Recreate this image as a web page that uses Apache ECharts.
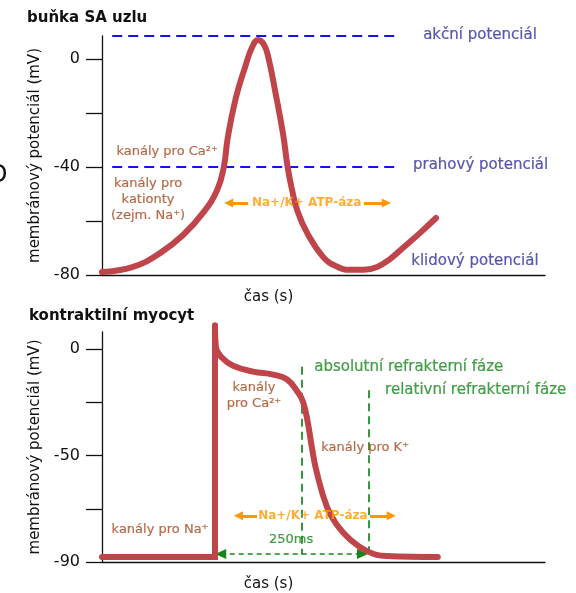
<!DOCTYPE html>
<html>
<head>
<meta charset="utf-8">
<script src="https://cdn.jsdelivr.net/npm/echarts@6/dist/echarts.min.js"></script>
<style>html,body{margin:0;padding:0;background:#fff}#c{width:576px;height:593px}</style>
</head>
<body>
<div id="c"></div>
<script>
// ---- data: SA node cell (top) ----
const topTime = [0, 7.0, 13.1, 18.3, 22.8, 26.0, 27.5, 28.4, 30.2, 32.3, 33.9, 35.2, 36.6, 37.6, 39.1, 40.9, 41.9, 42.9, 44.2, 46.3, 49.9, 52.8, 56.0, 59.1, 62.1, 65.0, 67.9, 71.8, 75.4];
const topMv   = [-78.9, -77.0, -71.9, -65.2, -57.0, -48.5, -40, -29, -14.5, -3.0, 4.4, 7.0, 5.2, 0.2, -12.0, -28.1, -40, -48.5, -56.7, -64.4, -73.3, -76.7, -78.1, -78.1, -77.0, -74.1, -70.0, -64.4, -58.9];
const topTickValues = [-80, -60, -40, -20, 0];
const topLabelValues = [-80, -40, 0];
const actionPotential = 8.5;
const thresholdPotential = -40;

// ---- data: contractile myocyte (bottom) ----
const botTimeA = [0, 25.5, 25.5];
const botMvA   = [-97.7, -97.7, 11];
const botTimeB = [25.5, 25.7, 27.1, 29.6, 34.1, 38.6, 41.8, 44.2, 45.4, 46.5, 47.4, 48.5, 50.8, 53.0, 56.0, 59.8, 64.3, 75.8];
const botMvB   = [11, 0.9, -4.1, -7.8, -10.6, -12.0, -14.3, -20.3, -24.9, -35.0, -46.5, -58.1, -74.2, -82.5, -89.4, -94.9, -97.2, -97.7];
const botTickValues = [-100, -75, -50, -25, 0];
const botLabelValues = [-100, -50, 0];
const botTickLabels = ['-90', '-50', '0'];
const absRefractory = 45.1;
const relRefractory = 60.3;

const FONT = 'DejaVu Sans';
const RED = '#c0454a';
const BROWN = '#a8481f';
const BLUE_LINE = '#1414f0';
const BLUE_TEXT = '#30309c';
const GREEN = '#16861a';
const ORANGE = '#ff9800';

function pairs(xs, ys) { return xs.map((x, i) => [x, ys[i]]); }

function yAxisBase(gridIndex, min, max, ticks, labels, fmt) {
  return {
    type: 'value', gridIndex, min, max,
    name: 'membránový potenciál (mV)', nameLocation: 'middle', nameGap: 41,
    nameTextStyle: { fontFamily: FONT, fontSize: 15, color: '#111' },
    axisLine: { show: true, lineStyle: { color: '#111', width: 1.3 } },
    axisTick: { show: true, length: 16, customValues: ticks, lineStyle: { color: '#111', width: 1.3 } },
    axisLabel: { customValues: labels, margin: 22, fontFamily: FONT, fontSize: 16, color: '#111', formatter: fmt },
    splitLine: { show: false }
  };
}
function xAxisBase(gridIndex) {
  return {
    type: 'value', gridIndex, min: 0, max: 100,
    name: 'čas (s)', nameLocation: 'middle', nameGap: 15,
    nameTextStyle: { fontFamily: FONT, fontSize: 15, color: '#111', padding: [0, 110, 0, 0], verticalAlign: 'top' },
    axisLine: { show: true, onZero: false, lineStyle: { color: '#111', width: 1.3 } },
    axisTick: { show: false }, axisLabel: { show: false }, splitLine: { show: false }
  };
}
function txt(x, y, text, color, size, align, extra) {
  return {
    value: [x, y],
    label: Object.assign({ show: true, position: 'inside', formatter: text, color, fontFamily: FONT, fontSize: size,
      align: align || 'center', verticalAlign: 'middle', lineHeight: size + 3,
      textBorderWidth: 0.2, textBorderColor: color, textShadowBlur: 0 }, extra || {})
  };
}
function hline(x1, x2, y, color, width, type) {
  return [{ coord: [x1, y], symbol: 'none' }, { coord: [x2, y], symbol: 'none', lineStyle: { color, width, type } }];
}
function arrowSeg(x1, x2, y, color, width, type, startArrow, endArrow, size) {
  return [
    { coord: [x1, y], symbol: startArrow ? 'triangle' : 'none', symbolSize: size },
    { coord: [x2, y], symbol: endArrow ? 'triangle' : 'none', symbolSize: size, lineStyle: { color, width, type } }
  ];
}

const chart = echarts.init(document.getElementById('c'), null, { renderer: 'canvas' });
chart.setOption({
  animation: false,
  backgroundColor: '#fff',
  title: [
    { text: 'buňka SA uzlu', left: 27, top: 11, padding: 0, textStyle: { fontFamily: FONT, fontSize: 15, fontWeight: 'bold', color: '#111' } },
    { text: 'kontraktilní myocyt', left: 29, top: 309, padding: 0, textStyle: { fontFamily: FONT, fontSize: 15, fontWeight: 'bold', color: '#111' } }
  ],
  graphic: [
    { type: 'text', left: -11, top: 164, style: { text: 'D', fontFamily: FONT, fontSize: 24, fill: '#111' } }
  ],
  grid: [
    { left: 102, top: 36, width: 443, height: 239 },
    { left: 102, top: 332, width: 443, height: 234 }
  ],
  xAxis: [xAxisBase(0), xAxisBase(1)],
  yAxis: [
    yAxisBase(0, -80, actionPotential, topTickValues, topLabelValues, v => String(v)),
    yAxisBase(1, -100, 8, botTickValues, botLabelValues, v => botTickLabels[botLabelValues.indexOf(v)])
  ],
  series: [
    {
      type: 'line', xAxisIndex: 0, yAxisIndex: 0, data: pairs(topTime, topMv),
      smooth: 0.45, showSymbol: false, clip: false, silent: true, z: 3,
      lineStyle: { color: RED, width: 6, cap: 'round', join: 'round' },
      markLine: {
        silent: true, label: { show: false }, symbol: 'none', z: 2,
        data: [
          hline(2.3, 67.3, actionPotential, BLUE_LINE, 1.8, [10, 6]),
          hline(2.3, 67.3, thresholdPotential, BLUE_LINE, 1.8, [10, 6]),
          arrowSeg(28.6, 33.0, -53.3, ORANGE, 3, 'solid', true, false, [9, 9]),
          arrowSeg(59.1, 64.2, -53.3, ORANGE, 3, 'solid', false, true, [9, 9])
        ]
      }
    },
    {
      type: 'line', xAxisIndex: 1, yAxisIndex: 1, data: pairs(botTimeA, botMvA),
      smooth: false, showSymbol: false, clip: false, silent: true, z: 3,
      lineStyle: { color: RED, width: 6, cap: 'round', join: 'miter' }
    },
    {
      type: 'line', xAxisIndex: 1, yAxisIndex: 1, data: pairs(botTimeB, botMvB),
      smooth: 0.45, showSymbol: false, clip: false, silent: true, z: 3,
      lineStyle: { color: RED, width: 6, cap: 'round', join: 'round' },
      markLine: {
        silent: true, label: { show: false }, symbol: 'none', z: 2,
        data: [
          [{ coord: [absRefractory, -8.3], symbol: 'none' }, { coord: [absRefractory, -96.5], symbol: 'none', lineStyle: { color: GREEN, width: 1.7, type: [8, 5] } }],
          [{ coord: [relRefractory, -19.4], symbol: 'none' }, { coord: [relRefractory, -97.5], symbol: 'none', lineStyle: { color: GREEN, width: 1.7, type: [8, 5] } }],
          arrowSeg(26.8, 58.8, -96.3, GREEN, 1.7, [5, 4], true, true, [10, 11]),
          arrowSeg(30.8, 35.0, -78.3, ORANGE, 3, 'solid', true, false, [9, 9]),
          arrowSeg(60.5, 65.3, -78.3, ORANGE, 3, 'solid', false, true, [9, 9])
        ]
      }
    },
    {
      type: 'scatter', xAxisIndex: 0, yAxisIndex: 0, symbolSize: 0, silent: true, clip: false, z: 5,
      data: [
        txt(14.7, -34.4, 'kanály pro Ca²⁺', BROWN, 13),
        txt(10.4, -52.2, 'kanály pro\nkationty\n(zejm. Na⁺)', BROWN, 13, 'center', { lineHeight: 16 }),
        txt(72.5, 8.9, 'akční potenciál', BLUE_TEXT, 15, 'left'),
        txt(70.2, -39.3, 'prahový potenciál', BLUE_TEXT, 15, 'left'),
        txt(69.8, -74.8, 'klidový potenciál', BLUE_TEXT, 15, 'left'),
        txt(46.2, -53.3, 'Na+/K+ ATP-áza', ORANGE, 12, 'center', { fontWeight: 'bold', textBorderWidth: 0 })
      ]
    },
    {
      type: 'scatter', xAxisIndex: 1, yAxisIndex: 1, symbolSize: 0, silent: true, clip: false, z: 5,
      data: [
        txt(34.3, -21.7, 'kanály\npro Ca²⁺', BROWN, 13, 'center', { lineHeight: 16 }),
        txt(59.4, -46.5, 'kanály pro K⁺', BROWN, 13),
        txt(13.1, -84.8, 'kanály pro Na⁺', BROWN, 13),
        txt(47.9, -8.3, 'absolutní refrakterní fáze', GREEN, 15, 'left'),
        txt(63.9, -19.4, 'relativní refrakterní fáze', GREEN, 15, 'left'),
        txt(42.7, -89.4, '250ms', GREEN, 13),
        txt(47.6, -78.3, 'Na+/K+ ATP-áza', ORANGE, 12, 'center', { fontWeight: 'bold', textBorderWidth: 0 })
      ]
    }
  ]
});
</script>
</body>
</html>
